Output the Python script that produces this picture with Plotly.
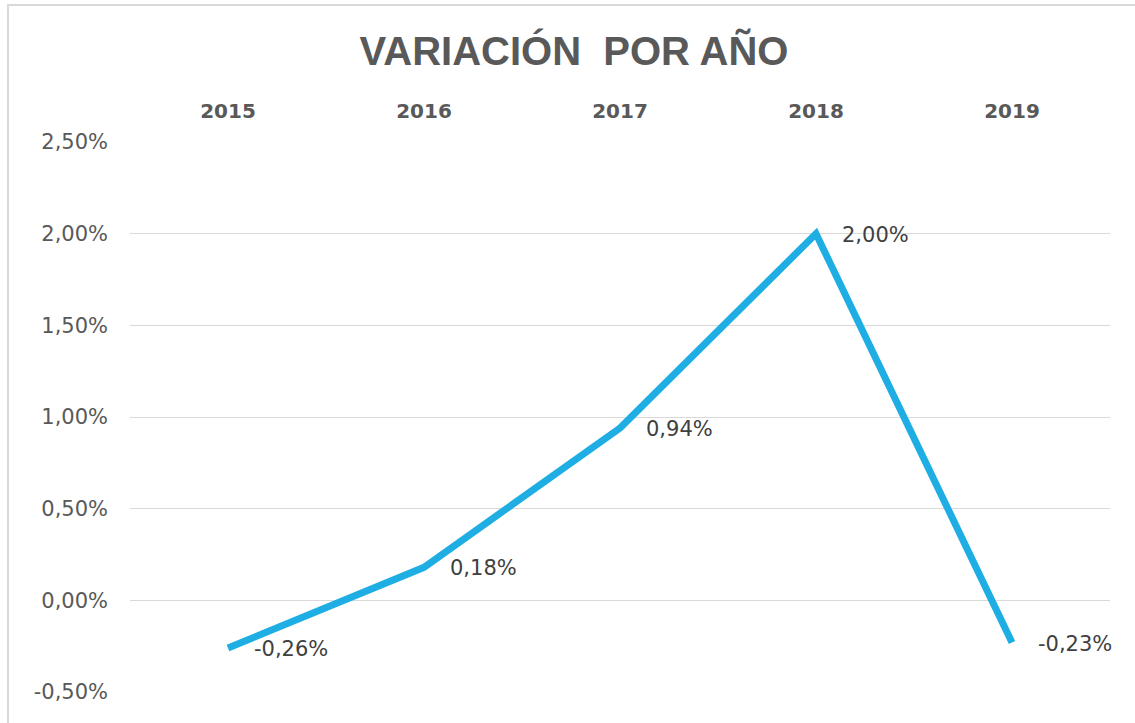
import plotly.graph_objects as go

years = ["2015", "2016", "2017", "2018", "2019"]
variation = [-0.0026, 0.0018, 0.0094, 0.0200, -0.0023]
y_ticks = [-0.005, 0.0, 0.005, 0.01, 0.015, 0.02, 0.025]

def fmt(v):
    return f"{v*100:.2f}%".replace(".", ",")

fig = go.Figure()
fig.add_trace(go.Scatter(
    x=list(range(len(years))), y=variation, mode="lines",
    line=dict(color="#1EAEE4", width=7),
    hoverinfo="skip",
))

for i, v in enumerate(variation):
    fig.add_annotation(
        x=i, y=v, text=fmt(v), showarrow=False,
        xanchor="left", yanchor="middle", xshift=24, yshift=-1,
        font=dict(family="DejaVu Sans, sans-serif", size=21, color="#404040"),
    )

# chart frame (left and top edges visible)
fig.add_shape(type="rect", xref="paper", yref="paper",
              x0=(8 - 130) / 980, x1=(1150 - 130) / 980,
              y0=(692 - 740) / 550, y1=(692 - 5) / 550,
              line=dict(color="#D9D9D9", width=2), fillcolor="rgba(0,0,0,0)", layer="below")

fig.update_layout(
    width=1135, height=723,
    paper_bgcolor="white", plot_bgcolor="white",
    margin=dict(l=130, r=25, t=142, b=31),
    showlegend=False,
    title=dict(
        text="<b>VARIACIÓN\u00a0 POR AÑO</b>",
        x=574 / 1135, xanchor="center", y=1 - 51 / 723, yanchor="middle",
        font=dict(family="Liberation Sans, Arial, sans-serif", size=40, color="#595959"),
    ),
    xaxis=dict(
        side="top", range=[-0.5, 4.5],
        tickvals=list(range(len(years))), ticktext=years,
        showgrid=False, showline=False, ticks="", zeroline=False,
        tickfont=dict(family="DejaVu Sans, sans-serif", size=20, color="#595959", weight="bold"),
        ticklabelstandoff=19,
    ),
    yaxis=dict(
        range=[-0.005, 0.025], tickvals=y_ticks, ticktext=[fmt(t) for t in y_ticks],
        showgrid=True, gridcolor="#D9D9D9", gridwidth=1,
        zeroline=False, showline=False, ticks="",
        tickfont=dict(family="DejaVu Sans, sans-serif", size=21, color="#595959"),
        ticklabelstandoff=21,
    ),
)

fig.write_html("out.html", config={"displayModeBar": False},
               post_script="document.body.style.margin='0';")
